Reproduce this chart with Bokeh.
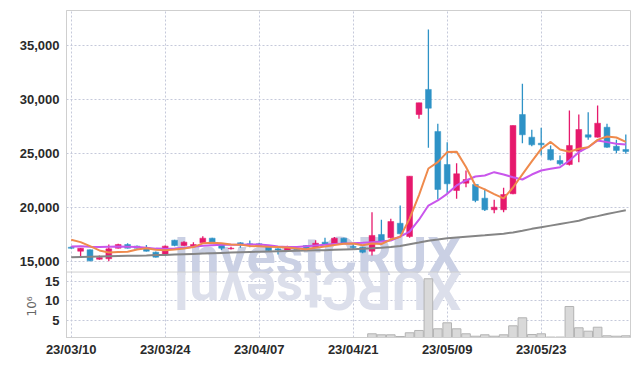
import math
from bokeh.plotting import figure
from bokeh.models import Range1d, FixedTicker, Label, ColumnDataSource, Span, LinearAxis
from bokeh.embed import file_html
from bokeh.resources import INLINE

dates = ["23/03/10", "23/03/13", "23/03/14", "23/03/15", "23/03/16", "23/03/17",
         "23/03/20", "23/03/21", "23/03/22", "23/03/23", "23/03/24",
         "23/03/27", "23/03/28", "23/03/29", "23/03/30", "23/03/31",
         "23/04/03", "23/04/04", "23/04/05", "23/04/06", "23/04/07",
         "23/04/10", "23/04/11", "23/04/12", "23/04/13", "23/04/14",
         "23/04/17", "23/04/18", "23/04/19", "23/04/20", "23/04/21",
         "23/04/24", "23/04/25", "23/04/26", "23/04/27", "23/04/28",
         "23/05/02", "23/05/03", "23/05/04", "23/05/08", "23/05/09",
         "23/05/10", "23/05/11", "23/05/12", "23/05/15", "23/05/16",
         "23/05/17", "23/05/18", "23/05/19", "23/05/22", "23/05/23",
         "23/05/24", "23/05/25", "23/05/26", "23/05/30", "23/05/31",
         "23/06/01", "23/06/02", "23/06/05", "23/06/07"]

open_ = [16350, 15980, 16110, 15240, 15280, 16260, 16600, 16450, 16300, 15890,
         15680, 17000, 16510, 16420, 16760, 17190, 16600, 16200, 16760, 16670,
         16670, 16510, 16200, 16040, 16260, 16510, 16350, 16820, 16670, 17190,
         16420, 16350, 15980, 17530, 17220, 18570, 17340, 28640, 30960, 27070,
         24010, 21600, 22280, 22160, 20890, 19820, 19820, 21300, 28640, 26540,
         25980, 25400, 24380, 24010, 25240, 26760, 26540, 27460, 25700, 25400]
high = [16450, 16280, 16150, 15580, 16600, 16680, 16720, 16500, 16550, 15950,
        16500, 17050, 16900, 16800, 17370, 17220, 16650, 16400, 16800, 16970,
        16760, 16560, 16260, 16480, 16300, 16560, 17000, 17220, 17300, 17220,
        16670, 16400, 19590, 18890, 18980, 20210, 22930, 29720, 36510, 27780,
        26080, 24130, 23450, 22200, 21760, 20740, 21850, 27620, 31480, 27220,
        27410, 25770, 24840, 29010, 28640, 28850, 29470, 27780, 26300, 26790]
low = [16200, 15520, 15050, 15200, 15050, 16230, 16240, 16240, 15950, 15400,
       15650, 16450, 16480, 16400, 16740, 16650, 16100, 16150, 16300, 16350,
       16480, 16000, 15680, 16000, 16080, 16180, 16300, 16580, 16650, 16650,
       16110, 15800, 15580, 16880, 17150, 17550, 17220, 28240, 25560, 20770,
       21300, 20830, 21910, 20520, 19700, 19500, 19590, 21250, 25980, 25700,
       24840, 24380, 23920, 23920, 24220, 26300, 26500, 25560, 25060, 25000]
close = [16250, 16250, 15090, 15400, 16200, 16600, 16260, 16260, 15980, 15430,
         16450, 16510, 16820, 16600, 17190, 16670, 16260, 16260, 16570, 16570,
         16510, 16040, 16100, 16420, 16110, 16200, 16720, 16600, 17190, 16670,
         16330, 15890, 17440, 16910, 18730, 17590, 22930, 29720, 29220, 21700,
         22220, 23150, 22620, 20680, 19820, 20060, 21230, 27620, 26760, 25830,
         25830, 24440, 24070, 25770, 27250, 26540, 27830, 25610, 25310, 25210]

ma5 = [17040, 16820, 16450, 16050, 15860, 15910, 15930, 16140, 16260, 16110,
       16080, 16130, 16240, 16360, 16710, 16760, 16710, 16600, 16590, 16470,
       16430, 16390, 16360, 16330, 16240, 16170, 16310, 16410, 16560, 16680,
       16700, 16540, 16700, 16650, 17060, 17310, 19000, 21180, 23640, 24230,
       25160, 25200, 23780, 22070, 21700, 21270, 20880, 21880, 23100, 24300,
       25450, 26100, 25390, 25190, 25470, 25610, 26290, 26600, 26510, 26100]
ma20 = [16420, 16430, 16400, 16380, 16400, 16420, 16400, 16380, 16300, 16220,
        16200, 16230, 16300, 16400, 16480, 16540, 16570, 16580, 16590, 16600,
        16600, 16540, 16420, 16370, 16380, 16440, 16510, 16570, 16640, 16690,
        16720, 16760, 16820, 16880, 16970, 17340, 17800, 18900, 20210, 20680,
        21290, 22070, 22530, 22900, 22990, 23300, 23080, 22830, 22620, 23080,
        23450, 23610, 23760, 24380, 25150, 25610, 26230, 26080, 25930, 25860]
ma60 = [15430, 15450, 15470, 15490, 15510, 15530, 15550, 15570, 15590, 15620,
        15640, 15670, 15700, 15730, 15760, 15790, 15820, 15850, 15880, 15910,
        15940, 15960, 15980, 16000, 16020, 16040, 16060, 16080, 16110, 16140,
        16170, 16200, 16250, 16310, 16380, 16460, 16620, 16780, 16950, 17060,
        17180, 17260, 17330, 17400, 17460, 17530, 17600, 17720, 17880, 18050,
        18200, 18350, 18500, 18650, 18800, 19050, 19230, 19420, 19600, 19780]
volume_m = [0.35, 0.28, 0.42, 0.25, 0.38, 0.22, 0.20, 0.18, 0.24, 0.30,
            0.33, 0.27, 0.21, 0.19, 0.36, 0.29, 0.23, 0.17, 0.20, 0.16,
            0.18, 0.22, 0.20, 0.19, 0.15, 0.17, 0.25, 0.21, 0.31, 0.26,
            0.24, 0.30, 1.59, 1.33, 1.33, 0.90, 1.85, 2.44, 15.7, 2.87,
            4.41, 2.87, 1.59, 0.97, 1.33, 0.97, 1.33, 3.64, 5.69, 1.41,
            1.59, 0.75, 0.75, 8.59, 3.13, 2.26, 3.28, 1.08, 0.97, 1.08]

price_ticks = [15000, 20000, 25000, 30000, 35000]
volume_ticks = [5, 10, 15]
date_tick_index = [0, 10, 20, 30, 40, 50]
volume_unit = "10⁶"

UP = "#e6196c"
DOWN = "#2e92c6"
ORANGE = "#ef8a4c"
MAGENTA = "#c956ec"
GRAYLINE = "#858585"
GRID = "#c5c9da"
FRAME = "#cfcfcf"
FONT = "Liberation Sans"
WM = "#cad0e4"
WM_REFL = "#dcdfeb"

# one frame holds both panels: the price scale covers the upper panel,
# the volume scale (extra range) covers the lower panel
PRICE_LO, PRICE_HI = 7991, 38268
VOL_LO, VOL_HI = 0.64, 84.49
PANEL_SPLIT = 14050      # price value at the panel separator
VOL_MID = 8.6            # volume value where the unit label is centred


def vol_to_price(v):
    return PRICE_LO + (v - VOL_LO) * (PRICE_HI - PRICE_LO) / (VOL_HI - VOL_LO)


n = len(dates)
xs = list(range(n))
src = ColumnDataSource(dict(
    x=xs, open=open_, high=high, low=low, close=close,
    top=[max(o, c) for o, c in zip(open_, close)],
    bottom=[min(o, c) for o, c in zip(open_, close)],
    color=[UP if c >= o else DOWN for o, c in zip(open_, close)],
    vol=volume_m, ma5=ma5, ma20=ma20, ma60=ma60,
))

p = figure(width=631, height=362, x_range=Range1d(-0.5, n - 0.5),
           y_range=Range1d(PRICE_LO, PRICE_HI),
           output_backend="svg", toolbar_location=None,
           min_border_left=66, min_border_right=1, min_border_top=10, min_border_bottom=25)
p.extra_y_ranges = {"vol": Range1d(VOL_LO, VOL_HI)}

p.background_fill_color = "white"
p.border_fill_color = "white"
p.outline_line_color = FRAME
p.outline_line_width = 1

vol_tick_pos = [round(vol_to_price(v)) for v in volume_ticks]
ytick_pos = vol_tick_pos + price_ticks
overrides = {pos: str(v) for pos, v in zip(vol_tick_pos, volume_ticks)}
overrides.update({t: f"{t:,}" for t in price_ticks})

p.xaxis.ticker = FixedTicker(ticks=date_tick_index)
p.xaxis.major_label_overrides = {i: dates[i] for i in date_tick_index}
p.yaxis.ticker = FixedTicker(ticks=ytick_pos)
p.yaxis.major_label_overrides = overrides
p.xgrid.ticker = FixedTicker(ticks=date_tick_index)
p.ygrid.ticker = FixedTicker(ticks=ytick_pos)

for g in (p.xgrid, p.ygrid):
    g.grid_line_color = GRID
    g.grid_line_dash = "2 2"
    g.grid_line_width = 1
for ax in (p.xaxis, p.yaxis):
    ax.axis_line_color = FRAME
    ax.major_tick_line_color = None
    ax.minor_tick_line_color = None
    ax.major_tick_out = 0
    ax.major_tick_in = 0
    ax.minor_tick_out = 0
    ax.major_label_text_font = FONT
    ax.major_label_text_font_size = "13px"
    ax.major_label_text_font_style = "bold"
    ax.major_label_text_color = "#2a2a2a"
p.yaxis.major_label_standoff = 7
p.xaxis.major_label_standoff = 4

# unit of the volume panel: a second left axis whose single label sits
# in the volume panel
vol_axis = LinearAxis(y_range_name="vol", ticker=FixedTicker(ticks=[VOL_MID]),
                      major_label_overrides={VOL_MID: volume_unit},
                      major_label_orientation="vertical",
                      axis_line_color=None, major_tick_line_color=None,
                      minor_tick_line_color=None, major_tick_out=0, major_tick_in=0,
                      minor_tick_out=0, major_label_standoff=-23,
                      major_label_text_font="DejaVu Sans",
                      major_label_text_font_size="12px",
                      major_label_text_font_style="normal",
                      major_label_text_color="#666666")
p.add_layout(vol_axis, "left")

# panel separator
p.add_layout(Span(location=PANEL_SPLIT, dimension="width", line_color=FRAME, line_width=1))

# watermark and its reflection
p.add_layout(Label(x=26.2, y=15530, text="InvestCRUX", text_font="Roboto",
                   text_font_style="bold", text_font_size="54px", text_color=WM,
                   text_baseline="middle", text_align="center", level="underlay"))
p.add_layout(Label(x=26.2, y=12330, text="XURCtsevnI", text_font="Roboto",
                   text_font_style="bold", text_font_size="54px", text_color=WM_REFL,
                   text_baseline="middle", text_align="center",
                   angle=math.pi, level="underlay"))

# volume
p.vbar(x="x", top="vol", bottom=0, width=0.92, source=src, y_range_name="vol",
       fill_color="#d9d9d9", line_color="#b3b3b3", line_width=1)

# candles
p.segment(x0="x", y0="high", x1="x", y1="low", source=src, line_color="color", line_width=1.3)
p.vbar(x="x", top="top", bottom="bottom", width=0.62, source=src,
       fill_color="color", line_color="color", line_width=0.5)

# moving averages
p.line("x", "ma60", source=src, line_color=GRAYLINE, line_width=2)
p.line("x", "ma20", source=src, line_color=MAGENTA, line_width=2)
p.line("x", "ma5", source=src, line_color=ORANGE, line_width=2)

open("out.html", "w").write(file_html(p, INLINE))
